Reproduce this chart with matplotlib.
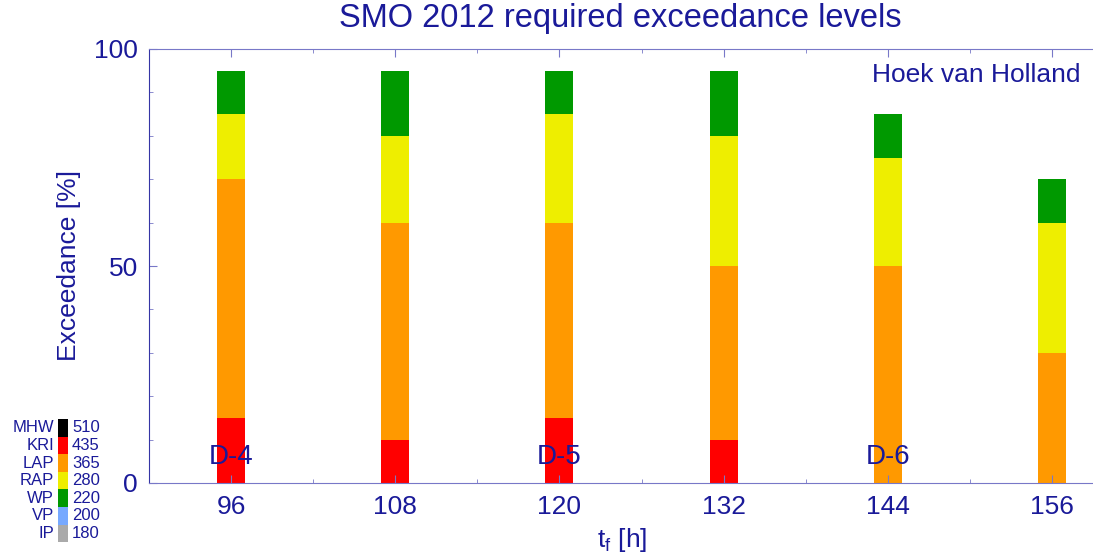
import matplotlib
matplotlib.use('Agg')
import matplotlib.pyplot as plt
import numpy as np

plt.rcParams['font.family'] = ['Liberation Sans', 'DejaVu Sans']
plt.rcParams['mathtext.fontset'] = 'custom'
plt.rcParams['mathtext.rm'] = 'Liberation Sans'
plt.rcParams['mathtext.it'] = 'Liberation Sans'

navy = '#1a1a99'
axcol = '#7878c8'

# forecast lead times [h] and exceedance layers (thickness in %)
lead = [96, 108, 120, 132, 144, 156]
kri = [15, 10, 15, 10, 0, 0]
lap = [55, 50, 45, 40, 50, 30]
rap = [15, 20, 25, 30, 25, 30]
wp = [10, 15, 10, 15, 10, 10]

# level legend
lev_names = ['MHW', 'KRI', 'LAP', 'RAP', 'WP', 'VP', 'IP']
lev_values = ['510', '435', '365', '280', '220', '200', '180']
lev_colors = ['#000000', '#ff0000', '#ff9900', '#eeee00', '#009900', '#77a9ff', '#aaaaaa']

day_labels = ['D-4', 'D-5', 'D-6']
day_pos = [96, 120, 144]

fig = plt.figure(figsize=(10.93, 5.58), dpi=100)
ax = fig.add_axes([149 / 1093, 1 - 483 / 558, (1093 - 149) / 1093, 434 / 558])

bottom = np.zeros(len(lead))
for vals, col in [(kri, '#ff0000'), (lap, '#ff9900'), (rap, '#eeee00'), (wp, '#009900')]:
    ax.bar(lead, vals, width=2.05, bottom=bottom, color=col, linewidth=0)
    bottom += np.array(vals)

for lab, x in zip(day_labels, day_pos):
    ax.text(x, 6, lab, color=navy, fontsize=20, ha='center', va='center')

fig.text(1080 / 1093, 1 - 75 / 558, 'Hoek van Holland',
         color=navy, fontsize=19, ha='right', va='center')

ax.set_xlim(90, 159)
ax.set_ylim(0, 100)
ax.set_xticks(lead)
ax.set_xticks(np.arange(90, 160, 6), minor=True)
ax.set_yticks([0, 50, 100])
ax.set_yticks(np.arange(0, 101, 10), minor=True)
ax.tick_params(which='both', direction='in', colors=axcol, labelcolor=navy,
               labelsize=19, top=True)
ax.tick_params(which='major', length=6)
ax.tick_params(which='minor', length=3)
ax.tick_params(axis='x', pad=9)
ax.tick_params(axis='y', pad=8)
for s in ['top', 'bottom']:
    ax.spines[s].set_color(axcol)
ax.spines['left'].set_color('#3535a5')
ax.spines['right'].set_visible(False)

fig.text(620 / 1093, 1 - 19 / 558, 'SMO 2012 required exceedance levels',
         color=navy, fontsize=23.5, ha='center', va='center')
ax.set_ylabel('Exceedance [%]', color=navy, fontsize=19)
ax.yaxis.set_label_coords(69 / 1093, 1 - 266 / 558, transform=fig.transFigure)
ax.set_xlabel(r'$\mathregular{t_f}$ [h]', color=navy, fontsize=19)
ax.xaxis.set_label_coords(622 / 1093, 1 - 540 / 558, transform=fig.transFigure)
ax.xaxis.label.set_va('center')
ax.yaxis.label.set_va('center')

# colour key of water levels
for i, (n, v, c) in enumerate(zip(lev_names, lev_values, lev_colors)):
    y0 = 1 - (419 + i * 17.6) / 558
    fig.patches.append(plt.Rectangle((58 / 1093, y0 - 17.6 / 558), 10 / 1093, 17.6 / 558,
                                     transform=fig.transFigure, color=c, lw=0))
    yc = y0 - 8.8 / 558
    fig.text(54 / 1093, yc, n, color=navy, fontsize=12, ha='right', va='center')
    fig.text(72 / 1093, yc, v, color=navy, fontsize=12, ha='left', va='center')

fig.savefig('out.png', dpi=100)
